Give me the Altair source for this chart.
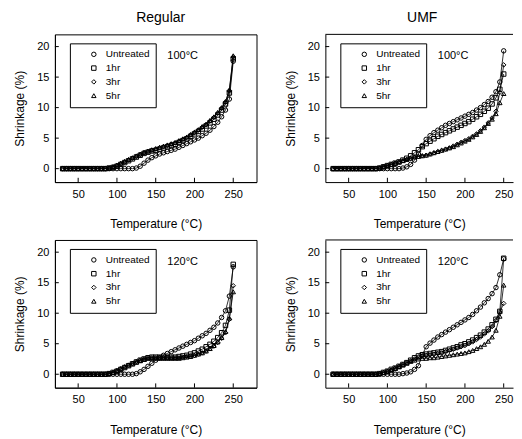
import altair as alt
import pandas as pd

FONT = "Liberation Sans"

TREATMENTS = ["Untreated", "1hr", "3hr", "5hr"]
SHAPES = ["circle", "square", "diamond", "triangle-up"]

TEMPERATURE = [30, 35, 40, 45, 50, 55, 60, 65, 70, 75, 80, 85, 90, 95, 100, 105, 110,
               115, 120, 125, 130, 135, 140, 145, 150, 155, 160, 165, 170, 175, 180,
               185, 190, 195, 200, 205, 210, 215, 220, 225, 230, 235, 240, 245, 250]

# Regular, 100 C
REG100_UNTREATED = [0, 0, 0, 0, 0, 0, 0, 0, 0, 0, 0, 0, 0, 0, 0, 0, 0, 0, 0,
                    0.1, 0.4, 0.9, 1.4, 1.8, 2.1, 2.4, 2.6, 2.8, 3.0, 3.2, 3.5, 3.8, 4.1,
                    4.4, 4.7, 5.0, 5.4, 5.8, 6.3, 6.9, 7.6, 8.5, 9.6, 11.4, 17.6]
REG100_1HR = [0, 0, 0, 0, 0, 0, 0, 0, 0, 0, 0, 0,
              0.1, 0.2, 0.4, 0.7, 1.0, 1.3, 1.6, 1.9, 2.2, 2.5, 2.7, 2.9, 3.0, 3.2, 3.4,
              3.6, 3.8, 4.0, 4.3, 4.6, 4.9, 5.3, 5.7, 6.1, 6.5, 7.0, 7.5, 8.1, 8.8, 9.6,
              10.6, 12.4, 18.0]
REG100_3HR = [0, 0, 0, 0, 0, 0, 0, 0, 0, 0, 0, 0,
              0.1, 0.3, 0.5, 0.8, 1.1, 1.4, 1.7, 2.0, 2.3, 2.6, 2.8, 3.0, 3.2, 3.4, 3.6,
              3.8, 4.0, 4.2, 4.5, 4.8, 5.1, 5.5, 5.9, 6.3, 6.8, 7.2, 7.8, 8.4, 9.1, 9.9,
              10.9, 12.8, 18.3]
REG100_5HR = [0, 0, 0, 0, 0, 0, 0, 0, 0, 0, 0, 0,
              0.1, 0.3, 0.6, 0.9, 1.2, 1.5, 1.8, 2.1, 2.4, 2.7, 2.9, 3.1, 3.3, 3.5, 3.7,
              3.9, 4.1, 4.3, 4.6, 4.9, 5.2, 5.6, 6.0, 6.4, 6.9, 7.3, 7.9, 8.5, 9.2, 10.0,
              11.0, 12.9, 18.5]

# UMF, 100 C
UMF100_UNTREATED = [0, 0, 0, 0, 0, 0, 0, 0, 0, 0, 0, 0, 0, 0, 0, 0, 0, 0,
                    0.1, 0.3, 0.7, 1.4, 2.4, 3.8, 4.8, 5.4, 5.9, 6.3, 6.7, 7.1, 7.4, 7.7,
                    8.0, 8.3, 8.6, 8.9, 9.2, 9.6, 10.0, 10.5, 11.0, 11.7, 12.6, 14.2, 19.3]
UMF100_1HR = [0, 0, 0, 0, 0, 0, 0, 0, 0, 0, 0, 0,
              0.1, 0.3, 0.5, 0.7, 0.9, 1.1, 1.4, 1.7, 2.1, 2.6, 3.1, 3.6, 4.1, 4.5, 4.9,
              5.3, 5.6, 5.9, 6.2, 6.5, 6.8, 7.1, 7.4, 7.7, 8.1, 8.5, 8.9, 9.4, 9.9, 10.6,
              11.6, 13.0, 15.5]
UMF100_3HR = [0, 0, 0, 0, 0, 0, 0, 0, 0, 0, 0, 0,
              0.1, 0.3, 0.5, 0.7, 0.9, 1.1, 1.3, 1.5, 1.7, 1.9, 2.0, 2.1, 2.2, 2.4, 2.6,
              2.8, 3.0, 3.2, 3.4, 3.7, 4.0, 4.3, 4.6, 4.9, 5.3, 5.7, 6.2, 6.8, 7.5, 8.3,
              9.4, 12.5, 17.0]
UMF100_5HR = [0, 0, 0, 0, 0, 0, 0, 0, 0, 0, 0, 0,
              0.1, 0.3, 0.5, 0.7, 0.9, 1.1, 1.3, 1.5, 1.7, 1.9, 2.0, 2.1, 2.2, 2.4, 2.6,
              2.8, 3.0, 3.2, 3.4, 3.6, 3.9, 4.2, 4.5, 4.8, 5.2, 5.6, 6.1, 6.7, 7.4, 8.1,
              9.0, 10.8, 12.3]

# Regular, 120 C
REG120_UNTREATED = [0, 0, 0, 0, 0, 0, 0, 0, 0, 0, 0, 0, 0, 0, 0, 0, 0, 0, 0,
                    0.1, 0.4, 0.8, 1.3, 1.8, 2.3, 2.7, 3.1, 3.4, 3.7, 4.0, 4.3, 4.6, 4.9,
                    5.2, 5.5, 5.9, 6.3, 6.7, 7.2, 7.7, 8.4, 9.3, 10.4, 12.8, 17.6]
REG120_1HR = [0, 0, 0, 0, 0, 0, 0, 0, 0, 0, 0, 0,
              0.1, 0.3, 0.5, 0.8, 1.1, 1.4, 1.7, 2.0, 2.3, 2.5, 2.7, 2.8, 2.8, 2.8, 2.8,
              2.8, 2.8, 2.8, 2.9, 3.0, 3.1, 3.3, 3.5, 3.8, 4.1, 4.5, 4.9, 5.4, 6.0, 6.8,
              8.0, 10.5, 18.0]
REG120_3HR = [0, 0, 0, 0, 0, 0, 0, 0, 0, 0, 0, 0,
              0.1, 0.3, 0.6, 0.9, 1.2, 1.5, 1.8, 2.1, 2.3, 2.5, 2.7, 2.7, 2.7, 2.7, 2.7,
              2.7, 2.7, 2.7, 2.7, 2.8, 2.9, 3.0, 3.1, 3.3, 3.5, 3.8, 4.2, 4.6, 5.2, 5.9,
              6.8, 9.0, 14.5]
REG120_5HR = [0, 0, 0, 0, 0, 0, 0, 0, 0, 0, 0, 0,
              0.1, 0.3, 0.6, 0.9, 1.2, 1.5, 1.8, 2.0, 2.2, 2.4, 2.6, 2.6, 2.6, 2.6, 2.6,
              2.6, 2.6, 2.6, 2.6, 2.7, 2.8, 2.9, 3.1, 3.3, 3.5, 3.8, 4.2, 4.7, 5.3, 6.0,
              7.0, 9.2, 13.5]

# UMF, 120 C
UMF120_UNTREATED = [0, 0, 0, 0, 0, 0, 0, 0, 0, 0, 0, 0, 0, 0, 0, 0, 0, 0,
                    0.1, 0.2, 0.4, 0.8, 1.4, 3.2, 4.5, 5.1, 5.6, 6.1, 6.5, 6.9, 7.3, 7.7,
                    8.1, 8.5, 8.9, 9.3, 9.8, 10.4, 11.0, 11.7, 12.4, 13.2, 14.2, 16.3, 18.9]
UMF120_1HR = [0, 0, 0, 0, 0, 0, 0, 0, 0, 0, 0, 0,
              0.1, 0.3, 0.5, 0.8, 1.0, 1.3, 1.6, 1.9, 2.3, 2.7, 3.0, 3.2, 3.3, 3.4, 3.5,
              3.6, 3.7, 3.9, 4.1, 4.3, 4.5, 4.8, 5.0, 5.3, 5.6, 6.0, 6.4, 6.9, 7.4, 8.1,
              9.0, 10.3, 19.0]
UMF120_3HR = [0, 0, 0, 0, 0, 0, 0, 0, 0, 0, 0, 0,
              0.1, 0.3, 0.5, 0.7, 1.0, 1.3, 1.6, 1.9, 2.2, 2.5, 2.8, 3.0, 3.1, 3.2, 3.3,
              3.4, 3.5, 3.7, 3.9, 4.1, 4.3, 4.5, 4.7, 5.0, 5.3, 5.7, 6.1, 6.6, 7.1, 7.8,
              8.8, 10.2, 11.6]
UMF120_5HR = [0, 0, 0, 0, 0, 0, 0, 0, 0, 0, 0, 0,
              0.1, 0.3, 0.5, 0.7, 0.9, 1.2, 1.5, 1.8, 2.1, 2.3, 2.5, 2.6, 2.6, 2.7, 2.7,
              2.8, 2.9, 3.0, 3.1, 3.2, 3.3, 3.4, 3.5, 3.7, 3.9, 4.2, 4.5, 4.9, 5.4, 6.1,
              7.2, 9.5, 14.6]

X_TICKS = [50, 100, 150, 200, 250]
Y_TICKS = [0, 5, 10, 15, 20]
PANEL_TITLES = ["Regular", "UMF"]
CONDITION_LABELS = ["100°C", "120°C"]
LABEL_POS = (165, 18.4)

X_MIN = 20
X_MAX_LEFT = 280
X_MAX_RIGHT = 262
Y_MIN = -2.2
Y_MAX = 22
PX_PER_DEG = 0.776
PANEL_H = 148
X_TICK_LEN = 0.7   # in shrinkage units
Y_TICK_LEN = 5     # in temperature units


def make_panel(series, label, title=None, right=False):
    x_max = X_MAX_RIGHT if right else X_MAX_LEFT
    width = round((x_max - X_MIN) * PX_PER_DEG)
    rows = []
    for name, vals in zip(TREATMENTS, series):
        assert len(vals) == len(TEMPERATURE)
        for t, v in zip(TEMPERATURE, vals):
            rows.append({"temp": t, "shrink": v, "treatment": name})
    df = pd.DataFrame(rows)

    xs = alt.Scale(domain=[X_MIN, x_max], nice=False, zero=False)
    ys = alt.Scale(domain=[Y_MIN, Y_MAX], nice=False, zero=False)
    X = alt.X("temp:Q", scale=xs,
              axis=alt.Axis(values=X_TICKS, title="Temperature (°C)"))
    Y = alt.Y("shrink:Q", scale=ys,
              axis=alt.Axis(values=Y_TICKS, title="Shrinkage (%)"))

    line = alt.Chart(df).mark_line(color="black", strokeWidth=0.8).encode(
        x=X, y=Y, detail="treatment:N", order="temp:Q")

    pts = alt.Chart(df).mark_point(
        filled=False, color="black", strokeWidth=1, size=20, opacity=1
    ).encode(
        x=X, y=Y,
        shape=alt.Shape(
            "treatment:N",
            scale=alt.Scale(domain=TREATMENTS, range=SHAPES),
            legend=alt.Legend(
                orient="none", legendX=15, legendY=9, title=None,
                strokeColor="black", fillColor="white", padding=6,
                symbolOffset=13, labelOffset=7, rowPadding=3.8,
                labelFont=FONT, labelFontSize=10, labelColor="black",
                symbolSize=20, symbolStrokeWidth=1,
            ),
        ),
    )

    xt_df = pd.DataFrame({"temp": X_TICKS,
                          "shrink": [Y_MIN] * len(X_TICKS),
                          "shrink2": [Y_MIN + X_TICK_LEN] * len(X_TICKS)})
    xt = alt.Chart(xt_df).mark_rule(color="black", strokeWidth=1).encode(
        x=X, y=Y, y2="shrink2:Q")
    yt_df = pd.DataFrame({"shrink": Y_TICKS,
                          "temp": [X_MIN] * len(Y_TICKS),
                          "temp2": [X_MIN + Y_TICK_LEN] * len(Y_TICKS)})
    yt = alt.Chart(yt_df).mark_rule(color="black", strokeWidth=1).encode(
        x=X, x2="temp2:Q", y=Y)

    ann_df = pd.DataFrame({"temp": [LABEL_POS[0]], "shrink": [LABEL_POS[1]],
                           "label": [label]})
    ann = alt.Chart(ann_df).mark_text(
        align="left", baseline="middle", font=FONT, fontSize=11, color="black"
    ).encode(x=X, y=Y, text="label:N")

    layers = [line, pts, xt, yt, ann]
    if right:
        top_df = pd.DataFrame({"temp": [X_MIN], "temp2": [x_max], "shrink": [Y_MAX]})
        top = alt.Chart(top_df).mark_rule(color="black", strokeWidth=1).encode(
            x=X, x2="temp2:Q", y=Y)
        layers.append(top)

    props = dict(width=width, height=PANEL_H)
    if title is not None:
        props["title"] = alt.TitleParams(
            title, font=FONT, fontSize=14, fontWeight="normal", color="black",
            offset=9, dx=5 if not right else 3)
    if right:
        props["view"] = alt.ViewBackground(stroke="transparent")
    return alt.layer(*layers).properties(**props)


p1 = make_panel([REG100_UNTREATED, REG100_1HR, REG100_3HR, REG100_5HR],
                CONDITION_LABELS[0], title=PANEL_TITLES[0])
p2 = make_panel([UMF100_UNTREATED, UMF100_1HR, UMF100_3HR, UMF100_5HR],
                CONDITION_LABELS[0], title=PANEL_TITLES[1], right=True)
p3 = make_panel([REG120_UNTREATED, REG120_1HR, REG120_3HR, REG120_5HR],
                CONDITION_LABELS[1])
p4 = make_panel([UMF120_UNTREATED, UMF120_1HR, UMF120_3HR, UMF120_5HR],
                CONDITION_LABELS[1], right=True)

row1 = alt.hconcat(p1, p2, spacing=26).resolve_scale(shape="independent").resolve_legend(shape="independent")
row2 = alt.hconcat(p3, p4, spacing=26).resolve_scale(shape="independent").resolve_legend(shape="independent")

chart = alt.vconcat(row1, row2, spacing=8).resolve_scale(
    shape="independent").resolve_legend(shape="independent").properties(
    padding={"left": 5, "top": 2, "right": 0, "bottom": 0},
    background="white",
).configure_view(
    stroke="black", strokeWidth=1
).configure_axis(
    labelFont=FONT, labelFontSize=11, labelColor="black",
    titleFont=FONT, titleFontSize=12, titleFontWeight="normal", titleColor="black",
    ticks=False, grid=False, domain=True, domainColor="black", domainWidth=1,
    labelPadding=6,
).configure_axisX(titlePadding=20).configure_axisY(titlePadding=10)

chart.save("out.html", embed_options={"renderer": "svg", "actions": False})
